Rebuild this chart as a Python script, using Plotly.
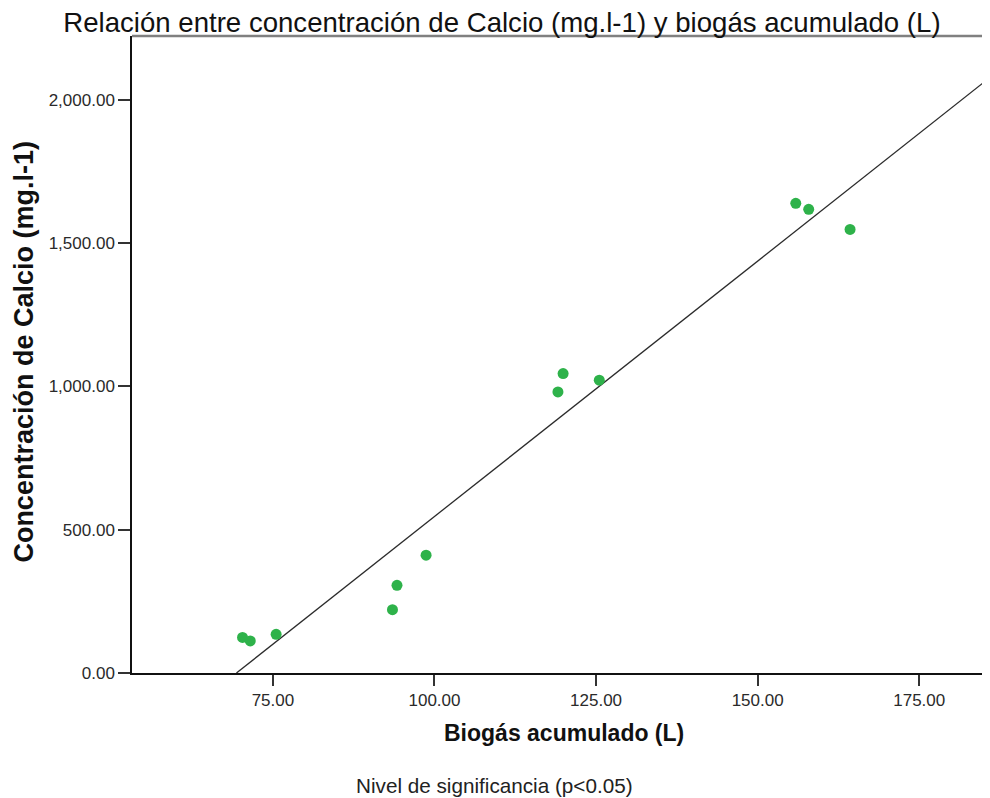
"""
Dispersión: concentración de Calcio vs biogás acumulado, con recta de ajuste
"""
import plotly.graph_objects as go
import numpy as np

# datos
biogas = [70.3, 71.5, 75.5, 93.5, 94.2, 98.7, 119.1, 119.9, 125.5, 155.9, 157.9, 164.3]
calcio = [124, 112, 135, 221, 306, 411, 981, 1045, 1022, 1639, 1618, 1548]

x_ticks = [75, 100, 125, 150, 175]
x_tick_text = ["75.00", "100.00", "125.00", "150.00", "175.00"]
y_ticks = [0, 500, 1000, 1500, 2000]
y_tick_text = ["0.00", "500.00", "1,000.00", "1,500.00", "2,000.00"]

X_RANGE = [53.2, 185.95]
Y_RANGE = [0, 2223]

# recta de ajuste lineal (mínimos cuadrados)
slope, intercept = np.polyfit(biogas, calcio, 1)
x0 = -intercept / slope
fit_x = [x0, X_RANGE[1]]
fit_y = [slope * v + intercept for v in fit_x]

fig = go.Figure()

fig.add_trace(go.Scatter(
    x=fit_x, y=fit_y, mode="lines",
    line=dict(color="#2b2b2b", width=1.3),
    hoverinfo="skip", showlegend=False,
))

fig.add_trace(go.Scatter(
    x=biogas, y=calcio, mode="markers",
    marker=dict(size=11, color="#2eb24a"),
    showlegend=False,
))

arial = "Liberation Sans, Arial, sans-serif"

# la página añade 8px de margen: figura de 982x790
fig.update_layout(
    width=982, height=790,
    paper_bgcolor="white", plot_bgcolor="white",
    margin=dict(l=124, r=0, t=28, b=125),
    font=dict(family=arial, color="#222"),
    title=dict(
        text="Relación entre concentración de Calcio (mg.l-1) y biogás acumulado (L)",
        x=0.503, xanchor="center", y=0.982, yanchor="middle",
        font=dict(size=27.6, color="#111", family=arial),
    ),
)

fig.update_xaxes(
    range=X_RANGE, tickvals=x_ticks, ticktext=x_tick_text,
    showgrid=False, zeroline=False,
    showline=True, linecolor="#111", linewidth=1.5,
    ticks="outside", ticklen=11, tickwidth=1.5, tickcolor="#333",
    tickfont=dict(size=17, color="#2a2a2a"),
)
fig.update_yaxes(
    range=Y_RANGE, tickvals=y_ticks, ticktext=y_tick_text,
    showgrid=False, zeroline=False,
    showline=True, linecolor="#111", linewidth=1.5,
    ticks="outside", ticklen=12, tickwidth=1.5, tickcolor="#333",
    tickfont=dict(size=17, color="#2a2a2a"),
)

# borde superior gris
fig.add_shape(type="line", xref="paper", yref="paper", x0=0, x1=1, y0=1, y1=1,
              line=dict(color="#808080", width=2.5))

# títulos de ejes y nota
fig.add_annotation(
    text="<b>Biogás acumulado (L)</b>",
    xref="paper", yref="paper", x=0.504, y=-0.0947,
    xanchor="center", yanchor="middle", showarrow=False,
    font=dict(size=23, color="#111"),
)
fig.add_annotation(
    text="<b>Concentración de Calcio (mg.l-1)</b>",
    xref="paper", yref="paper", x=-0.1259, y=0.5045, textangle=-90,
    xanchor="center", yanchor="middle", showarrow=False,
    font=dict(size=27, color="#111"),
)
fig.add_annotation(
    text="Nivel de significancia (p<0.05)",
    xref="paper", yref="paper", x=0.423, y=-0.1764,
    xanchor="center", yanchor="middle", showarrow=False,
    font=dict(size=20.7, color="#222"),
)

fig.write_html("out.html")
